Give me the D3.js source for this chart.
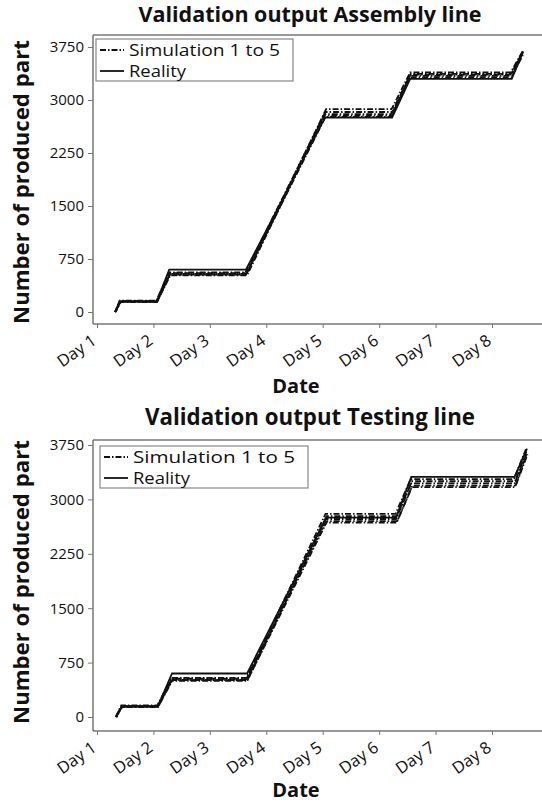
<!DOCTYPE html>
<html><head><meta charset="utf-8">
<script src="https://cdn.jsdelivr.net/npm/d3@7"></script>
<style>body{margin:0;background:#fff}svg{display:block}text{font-family:"Open Sans",sans-serif;fill:#111}</style>
</head><body><svg id="c" width="542" height="807"></svg>
<script>
// ---- data ----
const dayTicks = [1,2,3,4,5,6,7,8];
const dayLabels = ["Day 1","Day 2","Day 3","Day 4","Day 5","Day 6","Day 7","Day 8"];
const valueTicks = [0,750,1500,2250,3000,3750];
const legendLabels = ["Simulation 1 to 5","Reality"];
const titles = ["Validation output Assembly line","Validation output Testing line"];

// [day, produced parts] breakpoints
const assemblyReality = [[1.32,0],[1.41,150],[2.06,150],[2.28,600],[3.64,600],[5.04,2750],[6.23,2750],[6.55,3300],[8.35,3300],[8.55,3680]];
const assemblySim1 = [[1.32,0],[1.42,150],[2.07,150],[2.29,540],[3.65,540],[5.06,2870],[6.22,2870],[6.55,3390],[8.33,3390],[8.55,3700]];
const assemblySim2 = [[1.33,0],[1.42,140],[2.06,140],[2.30,520],[3.66,520],[5.05,2830],[6.24,2830],[6.56,3360],[8.34,3360],[8.54,3680]];
const assemblySim3 = [[1.32,0],[1.40,160],[2.05,160],[2.28,560],[3.63,560],[5.03,2800],[6.21,2800],[6.54,3340],[8.36,3340],[8.56,3660]];
const assemblySim4 = [[1.33,0],[1.41,145],[2.06,145],[2.29,530],[3.64,530],[5.04,2780],[6.23,2780],[6.55,3320],[8.35,3320],[8.55,3690]];
const assemblySim5 = [[1.32,0],[1.41,155],[2.07,155],[2.30,550],[3.65,550],[5.05,2760],[6.22,2760],[6.56,3370],[8.34,3370],[8.53,3650]];

const testingReality = [[1.34,0],[1.44,150],[2.08,150],[2.33,600],[3.66,600],[5.06,2750],[6.30,2750],[6.57,3310],[8.40,3310],[8.62,3700]];
const testingSim1 = [[1.33,0],[1.43,160],[2.07,160],[2.32,540],[3.65,540],[5.05,2800],[6.29,2800],[6.56,3280],[8.39,3280],[8.60,3690]];
const testingSim2 = [[1.34,0],[1.45,140],[2.08,140],[2.33,520],[3.66,520],[5.07,2770],[6.31,2770],[6.58,3250],[8.41,3250],[8.61,3660]];
const testingSim3 = [[1.35,0],[1.44,150],[2.09,150],[2.34,510],[3.67,510],[5.06,2730],[6.30,2730],[6.57,3220],[8.40,3220],[8.62,3640]];
const testingSim4 = [[1.34,0],[1.43,135],[2.08,135],[2.32,500],[3.66,500],[5.08,2700],[6.32,2700],[6.59,3190],[8.42,3190],[8.63,3620]];
const testingSim5 = [[1.33,0],[1.44,145],[2.07,145],[2.33,530],[3.65,530],[5.05,2680],[6.31,2680],[6.58,3170],[8.41,3170],[8.60,3600]];

const panels = [
  {title:titles[0], reality:assemblyReality, sims:[assemblySim1,assemblySim2,assemblySim3,assemblySim4,assemblySim5],
   top:35, bottom:324, y0:312, y1:47, titleY:22, dateY:393, legend:{x:96,y:39,w:197,h:42}, ylabY:182},
  {title:titles[1], reality:testingReality, sims:[testingSim1,testingSim2,testingSim3,testingSim4,testingSim5],
   top:440, bottom:731, y0:717, y1:445, titleY:425, dateY:797, legend:{x:100,y:446,w:208,h:42}, ylabY:582}
];

const svg = d3.select("#c");
const left = 93, right = 542;
const x = d3.scaleLinear().domain([1,8]).range([97,492]);

function fit(sel, w){ const n = sel.node(); const cur = n.getComputedTextLength(); const fs = parseFloat(sel.attr("font-size")); sel.attr("font-size", fs*w/cur); }

panels.forEach(p => {
  const g = svg.append("g");
  const y = d3.scaleLinear().domain([0,3750]).range([p.y0,p.y1]);
  // frame
  g.append("line").attr("x1",left).attr("x2",right).attr("y1",p.top).attr("y2",p.top).attr("stroke","#777").attr("stroke-width",1.5);
  // axes
  const ya = g.append("g").attr("transform",`translate(${left},0)`)
    .call(d3.axisLeft(y).tickValues(valueTicks).tickSize(5).tickPadding(4).tickFormat(d3.format("d")));
  ya.select(".domain").attr("d",`M0,${p.top}V${p.bottom}`).attr("stroke","#777").attr("stroke-width",1.5);
  ya.selectAll(".tick line").attr("stroke","#777");
  ya.selectAll(".tick text").attr("font-size",15).attr("font-family","Open Sans").attr("fill","#111");
  const xa = g.append("g").attr("transform",`translate(0,${p.bottom})`)
    .call(d3.axisBottom(x).tickValues(dayTicks).tickSize(4).tickFormat((d,i)=>dayLabels[i]));
  xa.select(".domain").attr("d",`M${left},0H${right}`).attr("stroke","#777").attr("stroke-width",1.5);
  xa.selectAll(".tick line").attr("stroke","#777");
  xa.selectAll(".tick text").attr("font-size",16.5).attr("font-family","Open Sans").attr("fill","#111")
    .attr("text-anchor","end").attr("dy",0).attr("y",0)
    .attr("transform","translate(0,19) rotate(-35)");
  // lines
  const line = d3.line().x(d=>x(d[0])).y(d=>y(d[1]));
  p.sims.forEach((s,i) => {
    g.append("path").datum(s).attr("d",line).attr("fill","none").attr("stroke","#111")
      .attr("stroke-width",1.8).attr("stroke-dasharray","6,2,1.5,2").attr("stroke-dashoffset",i*2.3);
  });
  g.append("path").datum(p.reality).attr("d",line).attr("fill","none").attr("stroke","#111").attr("stroke-width",1.8);
  // legend
  const L = p.legend;
  g.append("rect").attr("x",L.x).attr("y",L.y).attr("width",L.w).attr("height",L.h).attr("fill","#fff").attr("stroke","#888").attr("stroke-width",1.2);
  const ly = [L.y+11, L.y+32];
  g.append("line").attr("x1",L.x+4).attr("x2",L.x+28).attr("y1",ly[0]).attr("y2",ly[0]).attr("stroke","#111").attr("stroke-width",1.8).attr("stroke-dasharray","6,2,1.5,2");
  g.append("line").attr("x1",L.x+4).attr("x2",L.x+28).attr("y1",ly[1]).attr("y2",ly[1]).attr("stroke","#111").attr("stroke-width",1.8);
  legendLabels.forEach((t,i)=>{
    const tx = g.append("text").attr("x",L.x+33).attr("y",ly[i]+5.5).attr("font-family","Lato").attr("font-size",16).text(t);
    if (i===0) tx.attr("textLength", L.w-46).attr("lengthAdjust","spacingAndGlyphs");
    else tx.attr("textLength", 57).attr("lengthAdjust","spacingAndGlyphs");
  });
  // title
  const tt = g.append("text").attr("x",310).attr("y",p.titleY).attr("text-anchor","middle").attr("font-weight","bold").attr("font-size",19).text(p.title);
  // y label
  const yl = g.append("text").attr("transform",`translate(29,${p.ylabY}) rotate(-90)`).attr("text-anchor","middle").attr("font-weight","bold").attr("font-size",20).text("Number of produced part");
  fit(yl,284);
  // x label
  g.append("text").attr("x",296).attr("y",p.dateY).attr("text-anchor","middle").attr("font-weight","bold").attr("font-size",20).text("Date");
  if (p === panels[0]) fit(tt,343); else fit(tt,330);
});
</script></body></html>
